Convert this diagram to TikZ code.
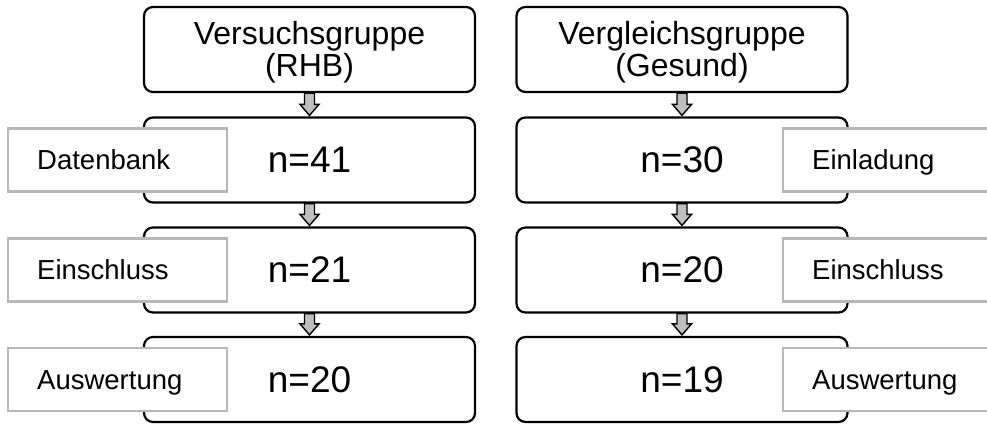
\documentclass[tikz,border=0pt]{standalone}
\usepackage{fontspec}
\setmainfont{Liberation Sans}
\usetikzlibrary{calc}

\tikzset{
  groupbox/.style={draw=black, line width=2.2pt, rounded corners=9pt, fill=white,
    minimum width=331pt, minimum height=85pt, inner sep=0pt, align=center},
  titletext/.style={font=\fontsize{32}{32}\selectfont},
  counttext/.style={font=\fontsize{37}{40}\selectfont},
  stagebox/.style={draw=black!28, line width=2.4pt, fill=white, anchor=west,
    minimum width=219pt, minimum height=63pt, text width=161pt, inner xsep=29pt,
    inner ysep=0pt, align=left, text height=20pt, text depth=0pt,
    font=\fontsize{27.5}{30}\selectfont},
  flowarrow/.style={draw=black, line width=1.4pt, fill=black!25, line join=miter},
}

% block arrow from the bottom of one box to the top of the next
\newcommand\flowstep[2]{%
  \draw[flowarrow] ($(#1.south)+(-5,0)$) -- ($(#2.north)+(-5,12)$)
    -- ($(#2.north)+(-9.5,12)$) -- ($(#2.north)+(0,1)$)
    -- ($(#2.north)+(9.5,12)$) -- ($(#2.north)+(5,12)$)
    -- ($(#1.south)+(5,0)$) -- cycle;}
% extra room above the first title line
\newcommand\titlestrut{\rule{0pt}{29.5pt}}

\begin{document}
\begin{tikzpicture}[x=1pt, y=1pt]
  \useasboundingbox (0,0) rectangle (987,423);
  \clip (0,0) rectangle (987,423);

  % left column: Versuchsgruppe
  \node[groupbox, titletext] (v0) at (309.5,373.5) {\titlestrut Versuchsgruppe\\(RHB)};
  \node[groupbox, counttext] (v1) at (309.5,263) {n=41};
  \node[groupbox, counttext] (v2) at (309.5,153) {n=21};
  \node[groupbox, counttext] (v3) at (309.5,43.5) {n=20};

  % right column: Vergleichsgruppe
  \node[groupbox, titletext] (g0) at (682,373.5) {\titlestrut Vergleichsgruppe\\(Gesund)};
  \node[groupbox, counttext] (g1) at (682,263) {n=30};
  \node[groupbox, counttext] (g2) at (682,153) {n=20};
  \node[groupbox, counttext] (g3) at (682,43.5) {n=19};

  % stage labels
  \node[stagebox] (vl1) at (7,263) {Datenbank};
  \node[stagebox] (vl2) at (7,153) {Einschluss};
  \node[stagebox] (vl3) at (7,43.5) {Auswertung};
  \node[stagebox] (gl1) at (782,263) {Einladung};
  \node[stagebox] (gl2) at (782,153) {Einschluss};
  \node[stagebox] (gl3) at (782,43.5) {Auswertung};

  % arrows between the boxes
  \flowstep{v0}{v1}
  \flowstep{v1}{v2}
  \flowstep{v2}{v3}
  \flowstep{g0}{g1}
  \flowstep{g1}{g2}
  \flowstep{g2}{g3}
\end{tikzpicture}
\end{document}
